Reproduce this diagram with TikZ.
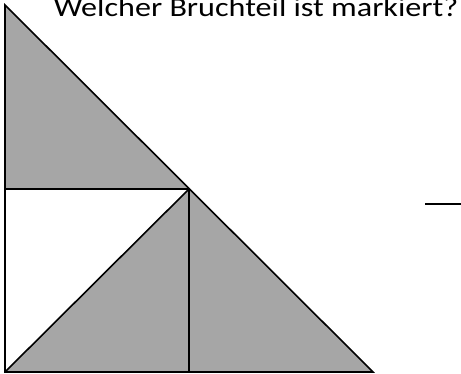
\documentclass[tikz,border=0pt]{standalone}
\usepackage{fontspec}
\usepackage{graphicx}
\setmainfont{Carlito}
\definecolor{markgray}{RGB}{166,166,166}
\begin{document}
\begin{tikzpicture}[x=1pt, y=1pt, line width=1.6pt]
  \useasboundingbox (0,0) rectangle (461,374);
  \fill[markgray] (5,369) -- (5,185) -- (189,185) -- cycle;
  \fill[markgray] (5,2) -- (189,185) -- (189,2) -- cycle;
  \fill[markgray] (189,185) -- (189,2) -- (373,2) -- cycle;
  \draw (5,369) -- (5,2) -- (373,2) -- cycle;
  \draw (5,185) -- (189,185);
  \draw (189,185) -- (189,2);
  \draw (5,2) -- (189,185);
  \draw[line width=2.2pt] (425,170) -- (461,170);
  \node[font=\fontsize{27}{32}\selectfont, inner sep=0pt, anchor=base west] (question) at (53,357) {\scalebox{1.19}[1]{Welcher Bruchteil ist markiert?}};
\end{tikzpicture}
\end{document}
